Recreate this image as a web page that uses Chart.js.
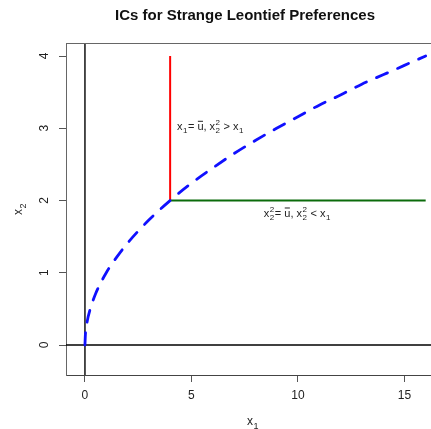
<!DOCTYPE html>
<html>
<head>
<meta charset="utf-8">
<script src="https://cdn.jsdelivr.net/npm/chart.js@4/dist/chart.umd.min.js"></script>
<style>
  html, body { margin: 0; padding: 0; background: #fff; }
  #c { display: block; }
</style>
</head>
<body>
<canvas id="c" width="431" height="429"></canvas>
<script>
// --- data ---
const xTicks = [0, 5, 10, 15];
const yTicks = [0, 1, 2, 3, 4];

// indifference curve x2 = sqrt(x1) (blue, dashed)
const curveX = [0, 0.02, 0.1, 0.25, 0.5, 1, 1.5, 2, 3, 4, 5, 6, 7, 8, 9, 10, 11, 12, 13, 14, 15, 16];
const curveY = [0, 0.14, 0.32, 0.5, 0.71, 1, 1.22, 1.41, 1.73, 2, 2.24, 2.45, 2.65, 2.83, 3, 3.16, 3.32, 3.46, 3.61, 3.74, 3.87, 4];

// red vertical segment
const redX = [4, 4];
const redY = [2, 4];

// green horizontal segment
const greenX = [4, 16];
const greenY = [2, 2];

const xRange = [-0.89, 16.25];
const yRange = [-0.415, 4.18];

const FONT = '"Liberation Sans", Arial, Helvetica, sans-serif';

function pts(xs, ys) {
    return xs.map((x, i) => ({ x: x, y: ys[i] }));
}

// rich text: tokens {t} plain, {sub, sup} stacked scripts, {bar} overlined letter
function drawMath(ctx, tokens, x, y, size, align) {
    const small = Math.round(size * 0.75);
    const measure = () => {
        let w = 0;
        tokens.forEach(tk => {
            if (tk.t !== undefined) { ctx.font = size + "px " + FONT; w += ctx.measureText(tk.t).width; }
            else if (tk.bar !== undefined) { ctx.font = size + "px " + FONT; w += ctx.measureText(tk.bar).width; }
            else {
                ctx.font = small + "px " + FONT;
                const a = tk.sub ? ctx.measureText(tk.sub).width : 0;
                const b = tk.sup ? ctx.measureText(tk.sup).width : 0;
                w += Math.max(a, b) + 1;
            }
        });
        return w;
    };
    const total = measure();
    let cx = align === "center" ? x - total / 2 : x;
    ctx.textBaseline = "alphabetic";
    ctx.textAlign = "left";
    tokens.forEach(tk => {
        if (tk.t !== undefined) {
            ctx.font = size + "px " + FONT;
            ctx.fillText(tk.t, cx, y);
            cx += ctx.measureText(tk.t).width;
        } else if (tk.bar !== undefined) {
            ctx.font = size + "px " + FONT;
            const w = ctx.measureText(tk.bar).width;
            ctx.fillText(tk.bar, cx, y);
            ctx.save();
            ctx.lineWidth = 1;
            ctx.strokeStyle = ctx.fillStyle;
            ctx.beginPath();
            ctx.moveTo(cx + 0.5, y - size * 0.8);
            ctx.lineTo(cx + w - 0.5, y - size * 0.8);
            ctx.stroke();
            ctx.restore();
            cx += w;
        } else {
            ctx.font = small + "px " + FONT;
            let w = 0;
            if (tk.sub) {
                ctx.fillText(tk.sub, cx + 0.5, y + size * 0.3);
                w = Math.max(w, ctx.measureText(tk.sub).width);
            }
            if (tk.sup) {
                ctx.fillText(tk.sup, cx + 0.5, y - size * 0.45);
                w = Math.max(w, ctx.measureText(tk.sup).width);
            }
            cx += w + 1;
        }
    });
}

const label1 = [{ t: "x" }, { sub: "1" }, { t: "= " }, { bar: "u" }, { t: ", x" }, { sub: "2", sup: "2" }, { t: " > x" }, { sub: "1" }];
const label2 = [{ t: "x" }, { sub: "2", sup: "2" }, { t: "= " }, { bar: "u" }, { t: ", x" }, { sub: "2", sup: "2" }, { t: " < x" }, { sub: "1" }];
const label1Pos = { x: 4.32, y: 3.03 };
const label2Pos = { x: 8.4, y: 1.83 };

const decorPlugin = {
    id: "decor",
    beforeDraw(chart) {
        const ctx = chart.ctx;
        ctx.save();
        ctx.fillStyle = "#fff";
        ctx.fillRect(0, 0, chart.width, chart.height);
        ctx.restore();
    },
    afterDraw(chart) {
        const ctx = chart.ctx;
        const area = chart.chartArea;
        const xs = chart.scales.x;
        const ys = chart.scales.y;
        ctx.save();

        // top border of the box
        ctx.strokeStyle = "#666";
        ctx.lineWidth = 1;
        ctx.beginPath();
        ctx.moveTo(area.left, area.top + 0.5);
        ctx.lineTo(area.right, area.top + 0.5);
        ctx.stroke();

        ctx.fillStyle = "#222";
        // x tick labels
        ctx.font = "12px " + FONT;
        ctx.textAlign = "center";
        ctx.textBaseline = "middle";
        xTicks.forEach(v => ctx.fillText(String(v), xs.getPixelForValue(v), 396));

        // y tick labels, rotated like R
        yTicks.forEach(v => {
            ctx.save();
            ctx.translate(45, ys.getPixelForValue(v));
            ctx.rotate(-Math.PI / 2);
            ctx.textAlign = "center";
            ctx.textBaseline = "middle";
            ctx.fillText(String(v), 0, 0);
            ctx.restore();
        });

        // axis titles
        drawMath(ctx, [{ t: "x" }, { sub: "1" }], 253, 425, 12, "center");
        ctx.save();
        ctx.translate(22, 209);
        ctx.rotate(-Math.PI / 2);
        drawMath(ctx, [{ t: "x" }, { sub: "2" }], 0, 0, 12, "center");
        ctx.restore();

        // title
        ctx.fillStyle = "#111";
        ctx.font = "bold 15px " + FONT;
        ctx.textAlign = "center";
        ctx.textBaseline = "middle";
        ctx.fillText("ICs for Strange Leontief Preferences", 245, 16);

        // annotations
        ctx.fillStyle = "#222";
        drawMath(ctx, label1, xs.getPixelForValue(label1Pos.x), ys.getPixelForValue(label1Pos.y) + 4, 11, "left");
        drawMath(ctx, label2, xs.getPixelForValue(label2Pos.x), ys.getPixelForValue(label2Pos.y) + 4, 11, "left");

        ctx.restore();
    }
};

new Chart(document.getElementById("c"), {
    type: "scatter",
    data: {
        datasets: [
            {
                data: pts(curveX, curveY),
                showLine: true,
                borderColor: "#1010ff",
                borderWidth: 2.8,
                borderDash: [12, 11],
                borderCapStyle: "round",
                cubicInterpolationMode: "monotone",
                pointRadius: 0,
                fill: false
            },
            {
                data: pts(redX, redY),
                showLine: true,
                borderColor: "#ff0000",
                borderWidth: 2,
                pointRadius: 0
            },
            {
                data: pts(greenX, greenY),
                showLine: true,
                borderColor: "#0b6b0b",
                borderWidth: 2,
                pointRadius: 0
            },
            {
                data: pts([0, 0], yRange),
                showLine: true,
                borderColor: "#000",
                borderWidth: 1.4,
                pointRadius: 0
            },
            {
                data: pts(xRange, [0, 0]),
                showLine: true,
                borderColor: "#000",
                borderWidth: 1.4,
                pointRadius: 0
            }
        ]
    },
    options: {
        responsive: false,
        animation: false,
        events: [],
        layout: { padding: { top: 43, right: 0, left: 0, bottom: 0 } },
        plugins: {
            legend: { display: false },
            tooltip: { enabled: false },
            title: { display: false }
        },
        scales: {
            x: {
                type: "linear",
                min: xRange[0],
                max: xRange[1],
                afterBuildTicks: s => { s.ticks = xTicks.map(v => ({ value: v })); },
                afterFit: s => { s.height = 54; },
                ticks: { display: false },
                grid: { drawOnChartArea: false, drawTicks: true, tickLength: 7, color: "#555", lineWidth: 1 },
                border: { display: true, color: "#444", width: 1 }
            },
            y: {
                type: "linear",
                min: yRange[0],
                max: yRange[1],
                afterBuildTicks: s => { s.ticks = yTicks.map(v => ({ value: v })); },
                afterFit: s => { s.width = 66; },
                ticks: { display: false },
                grid: { drawOnChartArea: false, drawTicks: true, tickLength: 7, color: "#555", lineWidth: 1 },
                border: { display: true, color: "#666", width: 1 }
            }
        }
    },
    plugins: [decorPlugin]
});
</script>
</body>
</html>
